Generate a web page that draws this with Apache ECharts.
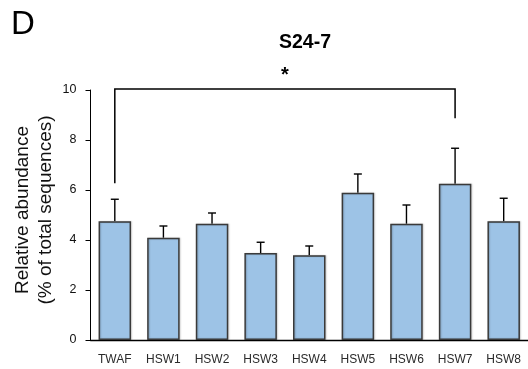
<!DOCTYPE html>
<html><head><meta charset="utf-8">
<script src="https://cdn.jsdelivr.net/npm/echarts@6/dist/echarts.min.js"></script>
<style>html,body{margin:0;padding:0;background:#fff}#c{width:528px;height:369px}</style>
</head><body><div id="c"></div>
<script>
var categories = ['TWAF','HSW1','HSW2','HSW3','HSW4','HSW5','HSW6','HSW7','HSW8'];
var means = [4.75, 4.09, 4.65, 3.48, 3.39, 5.89, 4.65, 6.25, 4.75];
var errors = [0.88, 0.47, 0.43, 0.43, 0.37, 0.75, 0.75, 1.42, 0.92];
var yTicks = [0, 2, 4, 6, 8, 10];
// significance bracket: [fromCategory, toCategory, topValue, leftBottomValue, rightBottomValue]
var bracket = [['TWAF', 'HSW7', 10.04, 6.27, 8.87]];
var panelLabel = 'D';
var chartTitle = 'S24-7';
var sigMark = '*';
var yName = ['Relative abundance', '(% of total sequences)'];

var chart = echarts.init(document.getElementById('c'), null, {renderer: 'canvas'});
var errData = means.map(function (m, i) { return [i, m, m + errors[i]]; });
var bracketData = bracket.map(function (b) {
  return [categories.indexOf(b[0]), categories.indexOf(b[1]), b[2], b[3], b[4]];
});
chart.setOption({
  animation: false,
  grid: {left: 90.5, top: 90, width: 439, height: 250, containLabel: false},
  xAxis: {
    type: 'category', data: categories,
    axisLine: {lineStyle: {color: '#000', width: 1.3}},
    axisTick: {show: false},
    axisLabel: {color: '#2a2a2a', fontSize: 12, fontFamily: 'Liberation Sans', margin: 14}
  },
  yAxis: {
    type: 'value', min: yTicks[0], max: yTicks[yTicks.length - 1], interval: 2,
    axisLine: {show: true, lineStyle: {color: '#000', width: 1}},
    axisTick: {show: true, length: 5, lineStyle: {color: '#000'}},
    splitLine: {show: false},
    axisLabel: {color: '#111', fontSize: 12.5, fontFamily: 'Liberation Sans', margin: 14}
  },
  series: [
    {
      type: 'bar', data: means, barWidth: 32.5,
      itemStyle: {color: '#9dc3e6', borderColor: '#3a3a3a', borderWidth: 1.5,
        shadowColor: 'rgba(0,0,0,0.2)', shadowOffsetX: 1, shadowOffsetY: 0, shadowBlur: 1.5}
    },
    {
      type: 'custom', data: errData, clip: false, z: 1,
      renderItem: function (params, api) {
        var x = api.value(0);
        var lo = api.coord([x, api.value(1)]);
        var hi = api.coord([x, api.value(2)]);
        var cw = 4;
        return {type: 'group', children: [
          {type: 'line', shape: {x1: lo[0], y1: lo[1], x2: hi[0], y2: hi[1]}, style: {stroke: '#000', lineWidth: 1.4}},
          {type: 'line', shape: {x1: hi[0] - cw, y1: hi[1], x2: hi[0] + cw, y2: hi[1]}, style: {stroke: '#000', lineWidth: 1.4}}
        ]};
      }
    },
    {
      type: 'custom', data: bracketData, clip: false,
      renderItem: function (params, api) {
        var a = api.value(0), b = api.value(1);
        var pTopL = api.coord([a, api.value(2)]);
        var pTopR = api.coord([b, api.value(2)]);
        var pBotL = api.coord([a, api.value(3)]);
        var pBotR = api.coord([b, api.value(4)]);
        return {type: 'group', children: [
          {type: 'polyline', shape: {points: [[pBotL[0], pBotL[1]], [pTopL[0], pTopL[1]], [pTopR[0], pTopR[1]], [pBotR[0], pBotR[1]]]},
            style: {stroke: '#000', lineWidth: 1.5, fill: null}},
          {type: 'text', x: (pTopL[0] + pTopR[0]) / 2, y: pTopL[1] - 14,
            style: {text: sigMark, fontSize: 20, fontWeight: 'bold', fontFamily: 'Liberation Sans', fill: '#000', align: 'center', verticalAlign: 'middle'}}
        ]};
      }
    }
  ],
  graphic: [
    {type: 'text', x: 23, y: 25, style: {text: panelLabel, fontSize: 33, fontFamily: 'Liberation Sans', fill: '#000', align: 'center', verticalAlign: 'middle'}},
    {type: 'text', x: 305, y: 43, style: {text: chartTitle, fontSize: 19.5, fontWeight: 'bold', fontFamily: 'Liberation Sans', fill: '#000', align: 'center', verticalAlign: 'middle'}},
    {type: 'text', x: 34.5, y: 210, rotation: Math.PI / 2,
      style: {text: yName.join('\n'), fontSize: 19, lineHeight: 23, fontFamily: 'Liberation Sans', fill: '#111', align: 'center', verticalAlign: 'middle'}}
  ]
});
</script></body></html>
